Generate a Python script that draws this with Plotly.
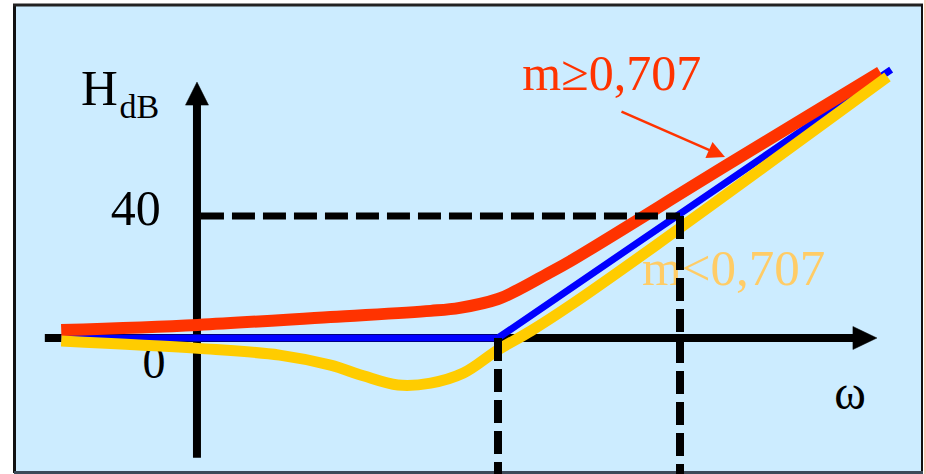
import plotly.graph_objects as go

# ---------------- data (x: decades log10(w/w0), y: dB) ----------------
blue_x = [-2.40, 0.0, 2.16]
blue_y = [0.0, 0.0, 88.0]

red_x = [-2.40, -1.65, -0.92, -0.37, -0.21, 0.0, 0.12, 0.27, 0.40, 1.25, 2.10]
red_y = [2.6, 4.3, 6.9, 8.9, 9.9, 12.8, 16.1, 21.0, 25.3, 56.4, 87.2]

yellow_x = [-2.40, -1.65, -1.20, -0.92, -0.74, -0.55, -0.37, -0.19, 0.0, 0.18, 0.40, 0.87, 2.14]
yellow_y = [-1.0, -3.4, -5.6, -8.9, -12.4, -15.4, -14.8, -11.5, -3.9, 2.3, 10.8, 30.5, 85.6]

y_tick_vals = [0, 40]
y_tick_text = ["0", "40"]
corner_x = 0.0      # w0
forty_x = 1.0       # 10 w0
label_high = "m≥0,707"
label_low = "m<0,707"

# ---------------- geometry ----------------
W, H = 926, 474
PX_DEC = 182.0   # px per decade
PX_DB = 3.05     # px per dB
OX, OY = 498.0, 338.0  # pixel of (0 dec, 0 dB)
xr = [(0 - OX) / PX_DEC, (W - OX) / PX_DEC]
yr = [(OY - H) / PX_DB, OY / PX_DB]

axis_x = -1.654           # vertical axis position (dec)
axis_left = -2.49
axis_right_tip = 2.082
axis_bottom = -39.3
axis_top_tip = 83.9
head_len_x = 24 / PX_DEC
head_half_y = 11.5 / PX_DB
head_len_y = 23 / PX_DB
head_half_x = 11.5 / PX_DEC

fig = go.Figure()

SERIF = "Liberation Serif, Times New Roman, serif"

def line(x, y, color, width, dash=None):
    fig.add_trace(go.Scatter(x=x, y=y, mode="lines",
                             line=dict(color=color, width=width, dash=dash),
                             hoverinfo="skip", showlegend=False))

def tri(x, y, color):
    fig.add_trace(go.Scatter(x=x, y=y, mode="lines", fill="toself",
                             fillcolor=color, line=dict(color=color, width=0.5),
                             hoverinfo="skip", showlegend=False))

def txt(x, y, s, size, color, family=SERIF):
    fig.add_trace(go.Scatter(x=[x], y=[y], mode="text", text=[s],
                             textposition="middle center",
                             textfont=dict(size=size, color=color, family=family),
                             hoverinfo="skip", showlegend=False))

# axes with arrows
line([axis_left, axis_right_tip - head_len_x + 0.01], [0, 0], "black", 8)
tri([axis_right_tip, axis_right_tip - head_len_x, axis_right_tip - head_len_x, axis_right_tip],
    [0, head_half_y, -head_half_y, 0], "black")
line([axis_x, axis_x], [axis_bottom, axis_top_tip - head_len_y + 0.3], "black", 8)
tri([axis_x, axis_x - head_half_x, axis_x + head_half_x, axis_x],
    [axis_top_tip, axis_top_tip - head_len_y, axis_top_tip - head_len_y, axis_top_tip], "black")

# texts under the curves / dashes
txt(-1.99, 40 + 1.2, y_tick_text[1], 50, "black")
txt(-1.89, 0 - 9.3, y_tick_text[0], 46, "black")
txt(-2.19, 80.5, "H", 51, "black")
txt(-1.97, 75.0, "dB", 34, "black")
txt(1.935, -19.5, "ω", 48, "black")
txt(0.625, 85.5, label_high, 50, "#FF3300")
txt(1.295, 21.5, label_low, 51, "#FFCC66")

# curves
line(blue_x, blue_y, "#0000FF", 7)
fig.add_trace(go.Scatter(x=red_x, y=red_y, mode="lines",
                         line=dict(color="#FF3300", width=12, shape="spline", smoothing=1.0),
                         hoverinfo="skip", showlegend=False))
fig.add_trace(go.Scatter(x=yellow_x, y=yellow_y, mode="lines",
                         line=dict(color="#FFCC00", width=11, shape="spline", smoothing=1.0),
                         hoverinfo="skip", showlegend=False))

# dashed guide lines
DASH = "23px,8px"
line([axis_x + 4 / PX_DEC, forty_x], [40, 40], "black", 7, DASH)
line([forty_x, forty_x], [40, yr[0]], "black", 8, DASH)
line([corner_x, corner_x], [0, yr[0]], "black", 8, DASH)

# annotation arrow for m>=0,707
fig.add_annotation(x=(725 - OX) / PX_DEC, y=(OY - 157) / PX_DB,
                   ax=(620 - OX) / PX_DEC, ay=(OY - 111) / PX_DB,
                   xref="x", yref="y", axref="x", ayref="y", text="",
                   showarrow=True, arrowhead=2, arrowsize=1.4, arrowwidth=2.5,
                   arrowcolor="#FF3300")

# frame
px = lambda v: v / W
py = lambda v: 1 - v / H
shapes = [
    dict(type="rect", xref="paper", yref="paper", x0=px(15), x1=px(922), y0=py(472), y1=py(5),
         fillcolor="#CCECFF", line=dict(width=0), layer="below"),
    dict(type="rect", xref="paper", yref="paper", x0=px(924), x1=1, y0=0, y1=1,
         fillcolor="#F8C3B3", line=dict(width=0), layer="below"),
    dict(type="line", xref="paper", yref="paper", x0=px(14.5), x1=px(14.5), y0=py(473), y1=py(4),
         line=dict(color="#111111", width=3), layer="below"),
    dict(type="line", xref="paper", yref="paper", x0=px(13), x1=px(923), y0=py(5), y1=py(5),
         line=dict(color="#222222", width=3), layer="below"),
    dict(type="line", xref="paper", yref="paper", x0=px(922), x1=px(922), y0=py(473), y1=py(4),
         line=dict(color="#111111", width=2), layer="below"),
    dict(type="line", xref="paper", yref="paper", x0=px(14), x1=px(923), y0=py(472.5), y1=py(472.5),
         line=dict(color="#3C4A58", width=3), layer="below"),
]

fig.update_layout(
    width=W, height=H, autosize=False,
    margin=dict(l=0, r=0, t=0, b=0, pad=0),
    paper_bgcolor="white", plot_bgcolor="rgba(0,0,0,0)",
    xaxis=dict(range=xr, visible=False, fixedrange=True),
    yaxis=dict(range=yr, visible=False, fixedrange=True,
               tickvals=y_tick_vals, ticktext=y_tick_text),
    shapes=shapes, showlegend=False,
)

fig.write_html("out.html", config={"displayModeBar": False},
               post_script="document.body.style.margin='0';document.body.style.overflow='hidden';")
